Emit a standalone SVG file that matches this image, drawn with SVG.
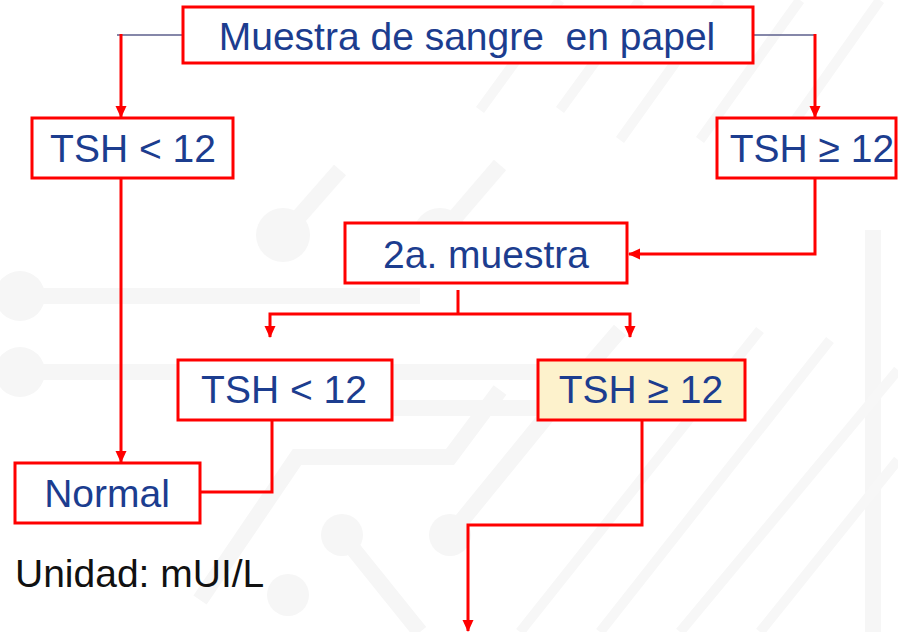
<svg xmlns="http://www.w3.org/2000/svg" width="898" height="632" viewBox="0 0 898 632">
  <defs>
    <marker id="arr" viewBox="0 0 12 12" refX="11" refY="6" markerWidth="12" markerHeight="12" markerUnits="userSpaceOnUse" orient="auto">
      <path d="M0,0.5 L12,6 L0,11.5 Z" fill="#ff0000"/>
    </marker>
  </defs>
  <style>
    .box { fill: #ffffff; stroke: #ff0000; stroke-width: 3; }
    .hl { fill: #fdf2cc; }
    .lbl { font-family: "Liberation Sans", Arial, sans-serif; font-size: 39px; fill: #1c3d8f; text-anchor: middle; white-space: pre; }
    .note { font-family: "Liberation Sans", Arial, sans-serif; font-size: 39px; fill: #111111; }
    .con { fill: none; stroke: #ff0000; stroke-width: 3; }
    .thin { fill: none; stroke: #5c5f8c; stroke-width: 1.5; }
    .bgl { fill: none; stroke: #f6f6f6; stroke-width: 16; }
    .bgs { fill: none; stroke: #f7f7f7; stroke-width: 10; }
    .bgc { fill: #f6f6f6; }
  </style>
  <rect width="898" height="632" fill="#ffffff"/>
  <g id="background">
    <path class="bgs" d="M560 0 L480 110 M640 0 L560 110 M720 0 L620 140 M800 0 L700 140 M880 0 L760 170"/>
    <path class="bgl" d="M20 296 H420"/>
    <circle class="bgc" cx="20" cy="296" r="25"/>
    <circle class="bgc" cx="20" cy="372" r="25"/>
    <path class="bgl" d="M283 235 L340 170 M440 235 L500 165"/>
    <circle class="bgc" cx="283" cy="235" r="27"/>
    <circle class="bgc" cx="440" cy="235" r="27"/>
    <path class="bgl" d="M20 372 H540 M392 408 H540"/>
    <path class="bgl" d="M873 230 V632"/>
    <path class="bgl" d="M200 600 L297 457 H450 L500 390"/>
    <path class="bgl" d="M342 535 L420 632 M450 535 L560 400 L620 330"/>
    <circle class="bgc" cx="342" cy="535" r="21"/>
    <circle class="bgc" cx="450" cy="535" r="21"/>
    <circle class="bgc" cx="288" cy="595" r="21"/>
    <path class="bgs" d="M520 632 L760 330 M600 632 L830 340 M680 632 L898 370 M760 632 L898 460"/>
  </g>
  <g id="connectors">
    <path class="thin" d="M183 35 H117"/>
    <path class="con" d="M121 34 V117" marker-end="url(#arr)"/>
    <path class="thin" d="M753 35 H815"/>
    <path class="con" d="M815 34 V117" marker-end="url(#arr)"/>
    <path class="con" d="M121 172 V462" marker-end="url(#arr)"/>
    <path class="con" d="M815 178 V254 H629" marker-end="url(#arr)"/>
    <path class="con" d="M458 290 V314"/>
    <path class="con" d="M458 314 H270 V337" marker-end="url(#arr)"/>
    <path class="con" d="M458 314 H630 V337" marker-end="url(#arr)"/>
    <path class="con" d="M272 420 V492 H200"/>
    <path class="con" d="M642 420 V525 H468 V631" marker-end="url(#arr)"/>
  </g>
  <g id="muestra">
    <rect class="box" x="183" y="7" width="570" height="56"/>
    <text class="lbl" x="467" y="50" xml:space="preserve">Muestra de sangre  en papel</text>
  </g>
  <g id="tsh-low-1">
    <rect class="box" x="32" y="118" width="201" height="60"/>
    <text class="lbl" x="133" y="162">TSH &lt; 12</text>
  </g>
  <g id="tsh-high-1">
    <rect class="box" x="717" y="118" width="179" height="60"/>
    <text class="lbl" x="812" y="162">TSH ≥ 12</text>
  </g>
  <g id="muestra-2">
    <rect class="box" x="345" y="223" width="282" height="60"/>
    <text class="lbl" x="486" y="268">2a. muestra</text>
  </g>
  <g id="tsh-low-2">
    <rect class="box" x="178" y="360" width="214" height="60"/>
    <text class="lbl" x="284" y="403">TSH &lt; 12</text>
  </g>
  <g id="tsh-high-2">
    <rect class="box hl" x="538" y="360" width="207" height="60"/>
    <text class="lbl" x="641" y="403">TSH ≥ 12</text>
  </g>
  <g id="normal">
    <rect class="box" x="15" y="463" width="185" height="60"/>
    <text class="lbl" x="107" y="507">Normal</text>
  </g>
  <text class="note" x="15" y="587">Unidad: mUI/L</text>
</svg>
